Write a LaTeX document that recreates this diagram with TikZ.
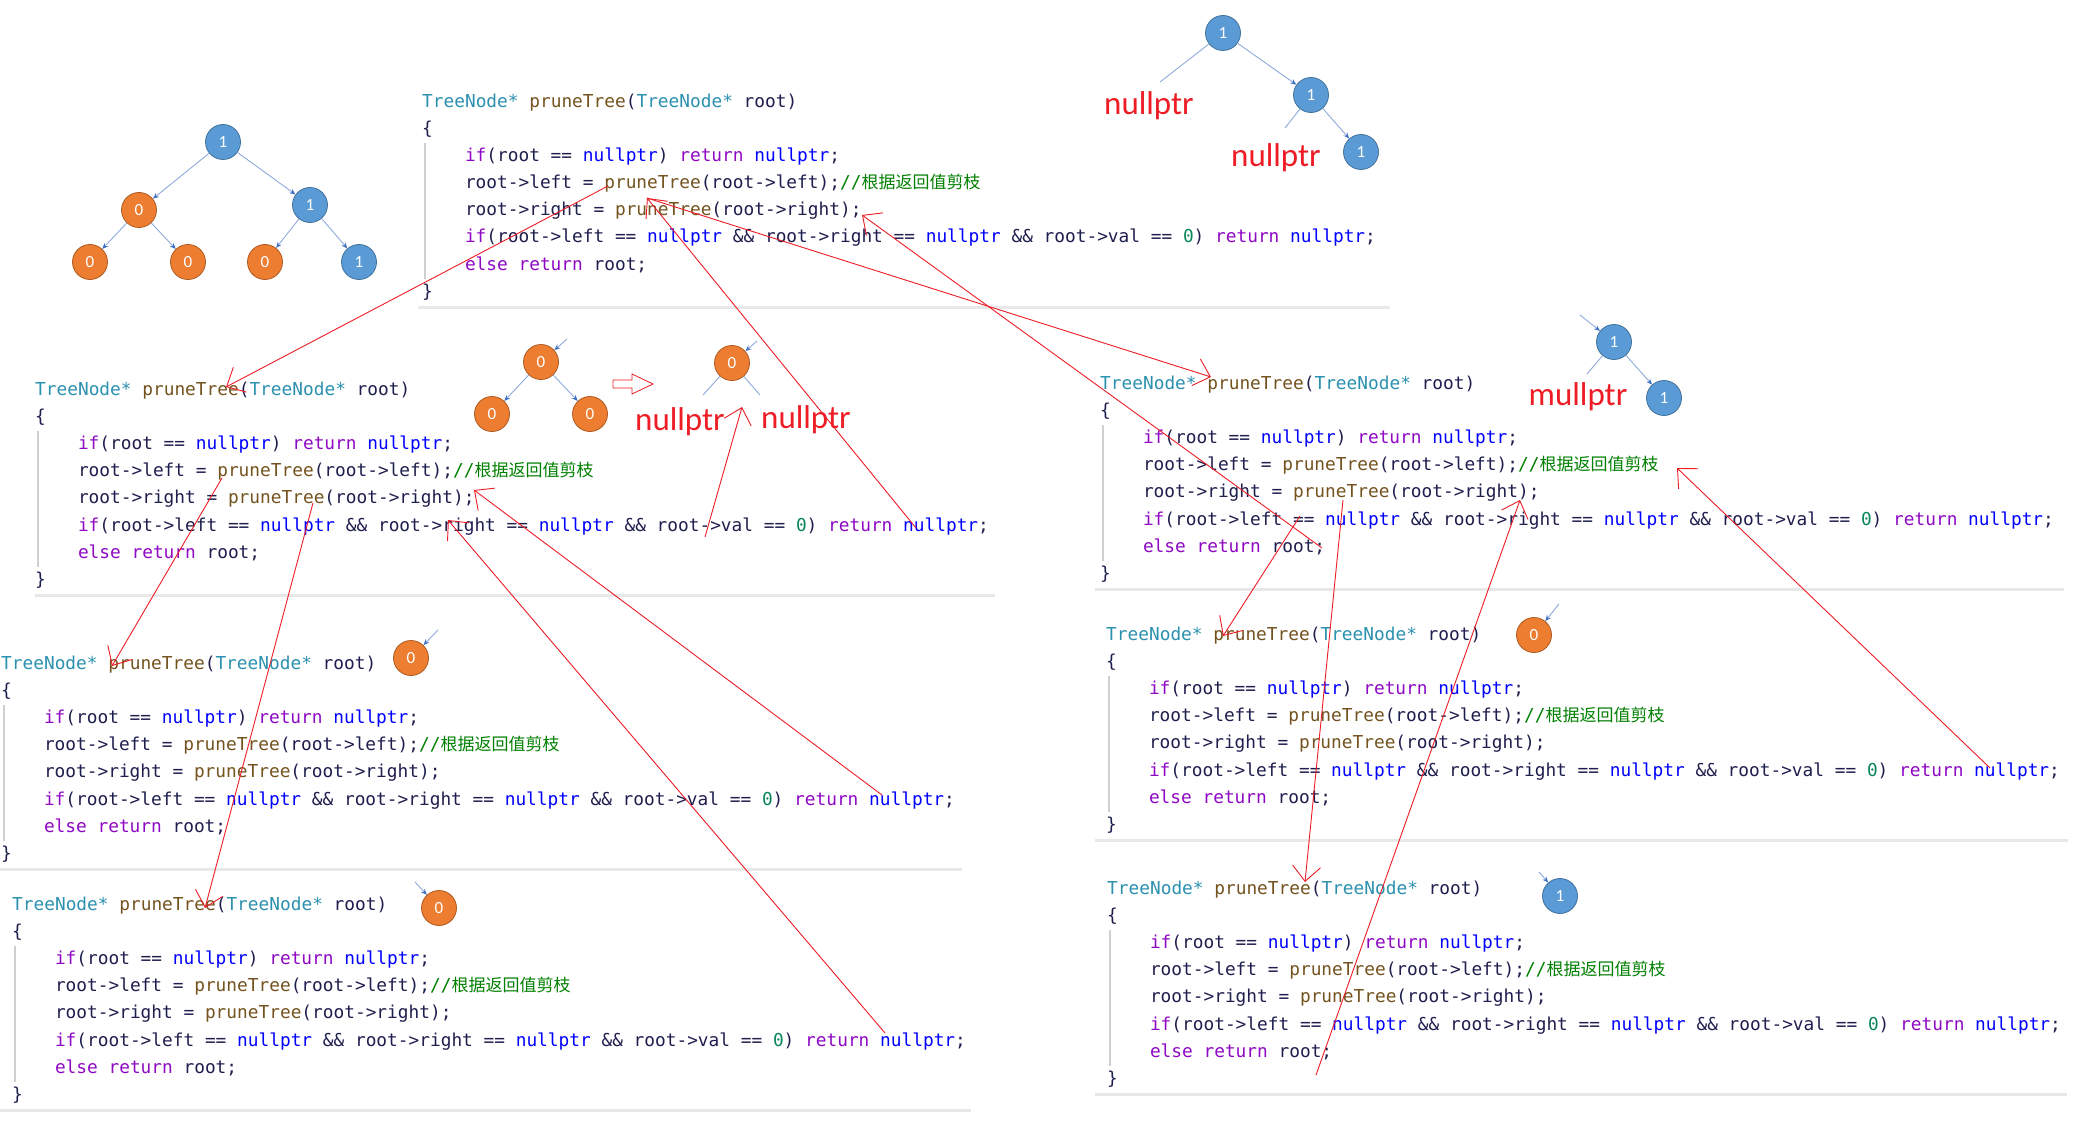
\documentclass[tikz,border=0pt]{standalone}
\usepackage{fontspec}
\usetikzlibrary{arrows.meta}
\newfontfamily\codefont{DejaVu Sans Mono}
\newfontfamily\cjk{Noto Sans CJK SC}
\newfontfamily\labfont{Carlito}
\definecolor{kwc}{HTML}{8F08C4}
\definecolor{tyc}{HTML}{2B91AF}
\definecolor{fnc}{HTML}{74531F}
\definecolor{npc}{HTML}{0000FF}
\definecolor{cmc}{HTML}{008000}
\definecolor{nmc}{HTML}{098658}
\definecolor{idc}{HTML}{1F1F4F}
\definecolor{sepc}{HTML}{E8E8E8}
\definecolor{guidec}{HTML}{CFCFCF}
\definecolor{bluefill}{HTML}{5B9BD5}
\definecolor{bluedraw}{HTML}{41719C}
\definecolor{orfill}{HTML}{ED7D31}
\definecolor{ordraw}{HTML}{AE5A21}
\definecolor{edgec}{HTML}{8FAADC}
\definecolor{tipc}{HTML}{4472C4}
\definecolor{redc}{HTML}{EE1C25}
\newcommand\CKw[1]{\textcolor{kwc}{#1}}
\newcommand\CTy[1]{\textcolor{tyc}{#1}}
\newcommand\CFn[1]{\textcolor{fnc}{#1}}
\newcommand\CNp[1]{\textcolor{npc}{#1}}
\newcommand\CCm[1]{\textcolor{cmc}{#1}}
\newcommand\CNm[1]{\textcolor{nmc}{#1}}
% #1 name, #2 x0, #3 y0 (header centre), #4 separator start x, #5 separator end x
\newcommand\codeblock[5]{%
  \node[codeline] (#1h) at (#2,#3) {\CTy{TreeNode*} \CFn{pruneTree}(\CTy{TreeNode*} root)};
  \node[codeline] (#1o) at (#2,#3+27.1) {\{};
  \node[codeline] (#1a) at (#2+42.8,#3+54.2) {\CKw{if}(root == \CNp{nullptr}) \CKw{return} \CNp{nullptr};};
  \node[codeline] (#1b) at (#2+42.8,#3+81.3) {root->left = \CFn{pruneTree}(root->left);\CCm{//{\cjk\fontsize{17}{20}\selectfont 根据返回值剪枝}}};
  \node[codeline] (#1c) at (#2+42.8,#3+108.4) {root->right = \CFn{pruneTree}(root->right);};
  \node[codeline] (#1d) at (#2+42.8,#3+135.5) {\CKw{if}(root->left == \CNp{nullptr} \&\& root->right == \CNp{nullptr} \&\& root->val == \CNm{0}) \CKw{return} \CNp{nullptr};};
  \node[codeline] (#1e) at (#2+42.8,#3+162.6) {\CKw{else} \CKw{return} root;};
  \node[codeline] (#1z) at (#2,#3+189.7) {\}};
  \draw[guide] (#2+3,#3+40) -- (#2+3,#3+176);
  \draw[sepline] (#4,#3+204) -- (#5,#3+204);
}
\begin{document}
\begin{tikzpicture}[x=1pt,y=-1pt,
  codeline/.style={anchor=west, inner sep=0pt, text height=13pt, text depth=4pt,
    font=\codefont\fontsize{17.8}{20}\selectfont, text=idc},
  guide/.style={draw=guidec, line width=1.5pt},
  sepline/.style={draw=sepc, line width=3pt},
  tnode/.style={circle, minimum size=35pt, inner sep=0pt, line width=0.8pt,
    font=\labfont\fontsize{17}{17}\selectfont, text=white},
  bnode/.style={tnode, fill=bluefill, draw=bluedraw},
  onode/.style={tnode, fill=orfill, draw=ordraw},
  tedge/.style={draw=edgec, line width=0.9pt, -{Stealth[length=6pt,width=5pt,color=tipc]}},
  tstub/.style={draw=edgec, line width=0.9pt},
  rarrow/.style={draw=redc, line width=0.9pt, -{Straight Barb[length=15pt,width=28pt]}},
  nulltext/.style={font=\labfont\fontsize{33}{33}\selectfont, text=redc, anchor=base, inner sep=0pt}]
\fill[white] (0,0) rectangle (2095,1123);
\useasboundingbox (0,0) rectangle (2095,1123);

% code blocks
\codeblock{A}{422}{103}{418}{1390}
\codeblock{B}{35}{391}{35}{995}
\codeblock{C}{1}{665}{0}{962}
\codeblock{D}{12}{906}{0}{971}
\codeblock{E}{1100}{385}{1095}{2064}
\codeblock{F}{1106}{636}{1095}{2068}
\codeblock{G}{1107}{890}{1095}{2067}

% tree 1
\node[bnode] (t1r) at (223,142) {1};
\node[onode] (t1a) at (139,210) {0};
\node[bnode] (t1b) at (310,205) {1};
\node[onode] (t1c) at (90,262) {0};
\node[onode] (t1d) at (188,262) {0};
\node[onode] (t1e) at (265,262) {0};
\node[bnode] (t1f) at (359,262) {1};
\draw[tedge] (t1r) -- (t1a);
\draw[tedge] (t1r) -- (t1b);
\draw[tedge] (t1a) -- (t1c);
\draw[tedge] (t1a) -- (t1d);
\draw[tedge] (t1b) -- (t1e);
\draw[tedge] (t1b) -- (t1f);

% tree 2
\node[bnode] (t2r) at (1223,33) {1};
\node[bnode] (t2a) at (1311,95) {1};
\node[bnode] (t2b) at (1361,152) {1};
\coordinate (t2s1) at (1160,82);
\coordinate (t2s2) at (1285,128);
\draw[tstub] (t2r) -- (t2s1);
\draw[tedge] (t2r) -- (t2a);
\draw[tstub] (t2a) -- (t2s2);
\draw[tedge] (t2a) -- (t2b);
\node[nulltext] (n2a) at (1149,115) {nullptr};
\node[nulltext] (n2b) at (1276,167) {nullptr};

% tree 3 (before / after)
\node[onode] (t3r) at (541,362) {0};
\node[onode] (t3a) at (492,414) {0};
\node[onode] (t3b) at (590,414) {0};
\coordinate (t3in) at (567,339);
\draw[tedge] (t3in) -- (t3r);
\draw[tedge] (t3r) -- (t3a);
\draw[tedge] (t3r) -- (t3b);
\draw[redc, line width=0.8pt] (613,380) -- (632,380) -- (632,374) -- (653,384) -- (632,394) -- (632,388) -- (613,388) -- cycle;
\node[onode] (t4r) at (732,363) {0};
\coordinate (t4in) at (757,341);
\coordinate (t4s1) at (703,395);
\coordinate (t4s2) at (760,395);
\draw[tedge] (t4in) -- (t4r);
\draw[tstub] (t4r) -- (t4s1);
\draw[tstub] (t4r) -- (t4s2);
\node[nulltext] (n4a) at (680,430) {nullptr};
\node[nulltext] (n4b) at (806,428) {nullptr};

% tree near block E
\node[bnode] (t5r) at (1614,342) {1};
\node[bnode] (t5a) at (1664,398) {1};
\coordinate (t5in) at (1580,315);
\coordinate (t5s) at (1587,374);
\draw[tedge] (t5in) -- (t5r);
\draw[tstub] (t5r) -- (t5s);
\draw[tedge] (t5r) -- (t5a);
\node[nulltext] (n5) at (1578,405) {mullptr};

% single nodes
\node[onode] (sC) at (411,658) {0};
\coordinate (sCin) at (438,630);
\draw[tedge] (sCin) -- (sC);
\node[onode] (sD) at (439,908) {0};
\coordinate (sDin) at (415,882);
\draw[tedge] (sDin) -- (sD);
\node[onode] (sF) at (1534,635) {0};
\coordinate (sFin) at (1559,604);
\draw[tedge] (sFin) -- (sF);
\node[bnode] (sG) at (1560,896) {1};
\coordinate (sGin) at (1539,872);
\draw[tedge] (sGin) -- (sG);

% red hand-drawn arrows
\coordinate (p1) at (608,186);   \coordinate (q1) at (226,387);
\coordinate (p2) at (222,478);   \coordinate (q2) at (112,666);
\coordinate (p3) at (882,795);   \coordinate (q3) at (474,490);
\coordinate (p4) at (313,503);   \coordinate (q4) at (205,908);
\coordinate (p5) at (885,1033);  \coordinate (q5) at (448,520);
\coordinate (p6) at (916,528);   \coordinate (q6) at (647,198);
\coordinate (p7) at (705,537);   \coordinate (q7) at (742,407);
\coordinate (q8) at (1211,377);
\coordinate (p9) at (1322,548);  \coordinate (q9) at (862,215);
\coordinate (p10) at (1300,516); \coordinate (q10) at (1223,636);
\coordinate (p11) at (1990,768); \coordinate (q11) at (1677,468);
\coordinate (p12) at (1343,500); \coordinate (q12) at (1305,882);
\coordinate (p13) at (1316,1075);\coordinate (q13) at (1520,500);
\draw[rarrow] (p1) -- (q1);
\draw[rarrow] (p2) -- (q2);
\draw[rarrow] (p3) -- (q3);
\draw[rarrow] (p4) -- (q4);
\draw[rarrow] (p5) -- (q5);
\draw[rarrow] (p6) -- (q6);
\draw[rarrow] (p7) -- (q7);
\draw[rarrow] (q6) -- (q8);
\draw[rarrow] (p9) -- (q9);
\draw[rarrow] (p10) -- (q10);
\draw[rarrow] (p11) -- (q11);
\draw[rarrow] (p12) -- (q12);
\draw[rarrow] (p13) -- (q13);
\end{tikzpicture}
\end{document}
